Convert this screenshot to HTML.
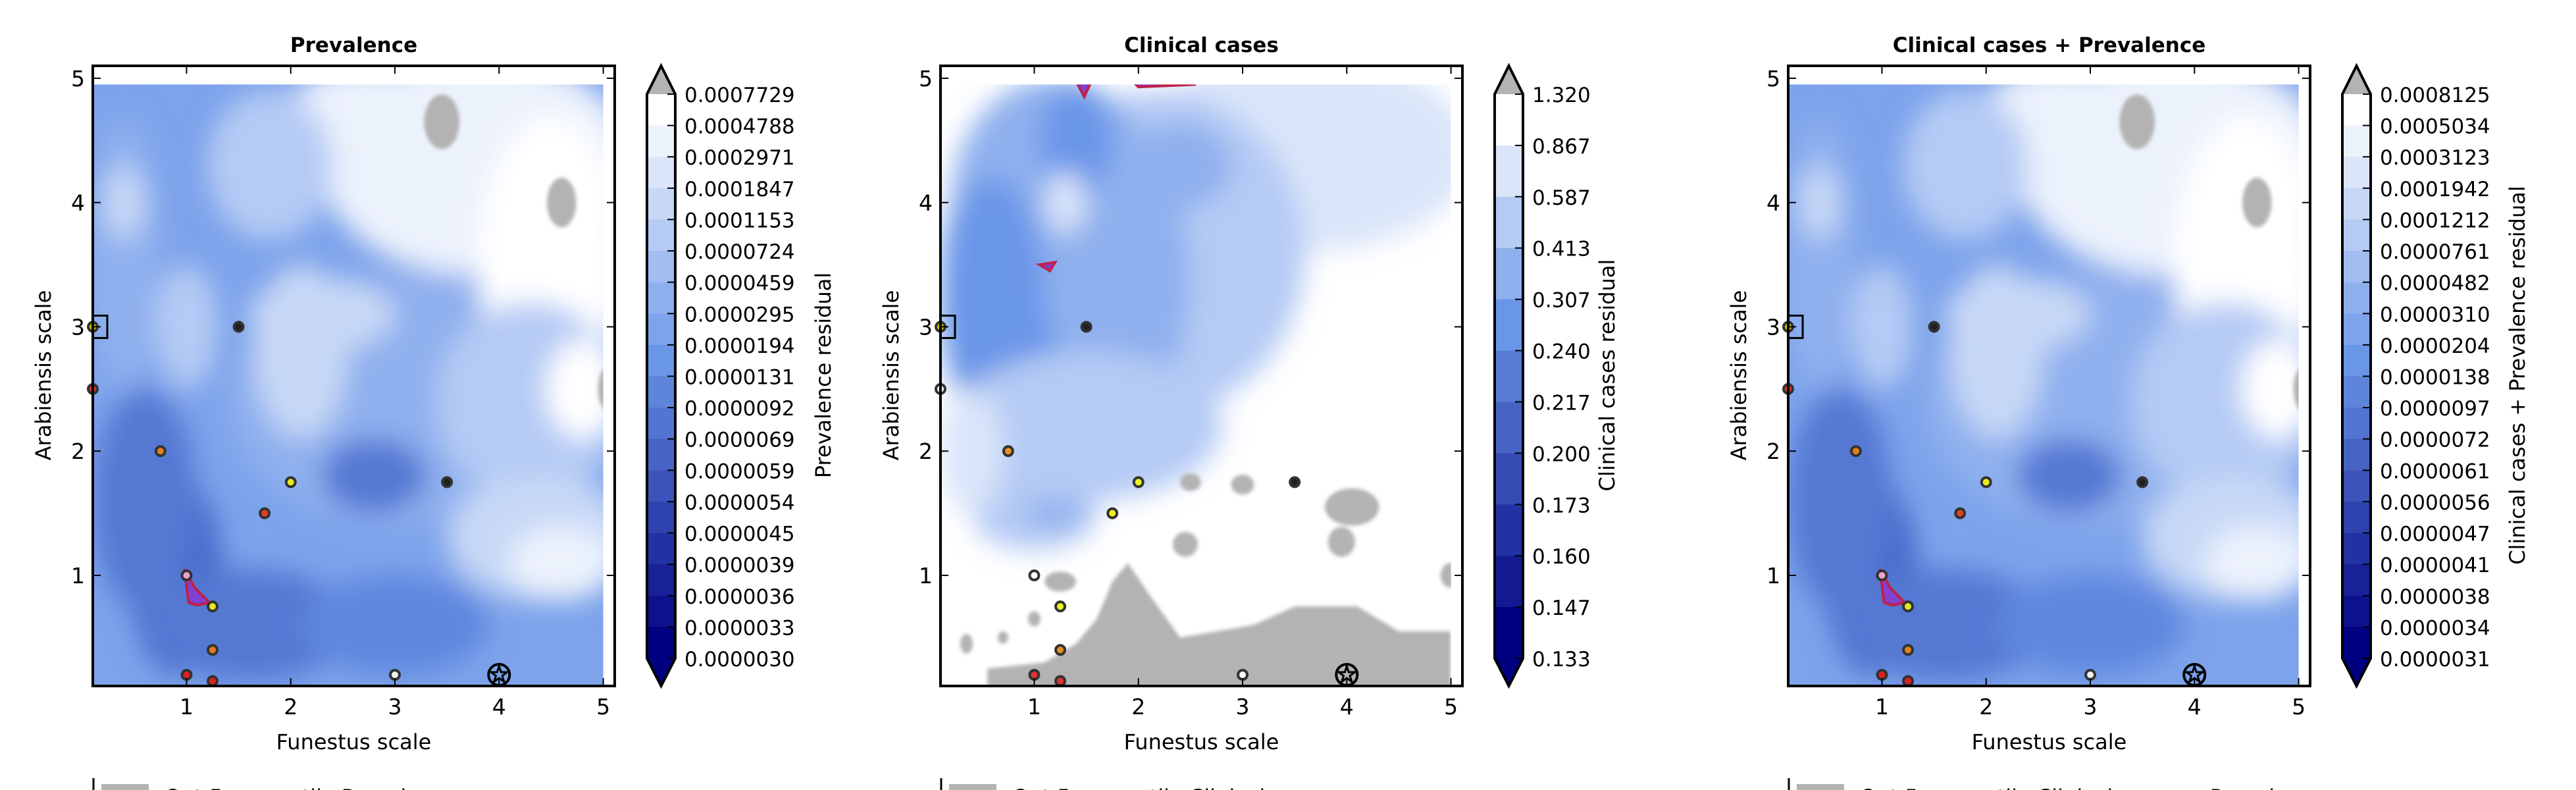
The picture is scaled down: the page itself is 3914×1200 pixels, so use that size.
<!DOCTYPE html>
<html><head><meta charset="utf-8">
<style>
html,body{margin:0;padding:0;background:#fff;}
svg{display:block;font-family:"DejaVu Sans","Liberation Sans",sans-serif;}
</style></head>
<body>
<svg id="fig" width="3914" height="1200" viewBox="0 0 3914 1200" xmlns="http://www.w3.org/2000/svg">
<defs>
<filter id="blur" x="-50%" y="-50%" width="200%" height="200%"><feGaussianBlur stdDeviation="20"/></filter>
<filter id="blur2" x="-50%" y="-50%" width="200%" height="200%"><feGaussianBlur stdDeviation="3"/></filter>
</defs>
</svg>
<script>
// ---- data ----
const xTicks = [1,2,3,4,5];
const yTicks = [1,2,3,4,5];
const titles = ["Prevalence","Clinical cases","Clinical cases + Prevalence"];
const cbarLabels = ["Prevalence residual","Clinical cases residual","Clinical cases + Prevalence residual"];
const legendLabels = ["Out 5 percentile Prevalence","Out 5 percentile Clinical cases","Out 5 percentile Clinical cases + Prevalence"];
const prevLevels = ["0.0007729","0.0004788","0.0002971","0.0001847","0.0001153","0.0000724","0.0000459","0.0000295","0.0000194","0.0000131","0.0000092","0.0000069","0.0000059","0.0000054","0.0000045","0.0000039","0.0000036","0.0000033","0.0000030"];
const clinLevels = ["1.320","0.867","0.587","0.413","0.307","0.240","0.217","0.200","0.173","0.160","0.147","0.133"];
const combLevels = ["0.0008125","0.0005034","0.0003123","0.0001942","0.0001212","0.0000761","0.0000482","0.0000310","0.0000204","0.0000138","0.0000097","0.0000072","0.0000061","0.0000056","0.0000047","0.0000041","0.0000038","0.0000034","0.0000031"];
// site points
const ptX = [0.1,0.1,0.75,1.5,2.0,1.75,3.5,1.0,1.25,1.25,1.0,1.25,3.0];
const ptY = [3.0,2.5,2.0,3.0,1.75,1.5,1.75,1.0,0.75,0.4,0.2,0.15,0.2];
const ptColPrev = ["#c8c800","#e03030","#e08020","#202020","#e8e820","#e04020","#202020","#f0a0d0","#e8e820","#e08020","#e02020","#e02020","#f0f0f0"];
const ptColClin = ["#c8c800","#ffffff","#e89020","#202020","#f0f020","#f0f020","#202020","#ffffff","#f0f020","#e89020","#e03030","#e03030","#ffffff"];
const starX = 4.0, starY = 0.2;
// approximate contour blobs: [x, y, rx, ry, level]
const prevBlobs = [
 [3.0,2.4,1.6,1.0,6],[3.8,4.3,1.5,0.9,1],[2.7,4.6,0.8,0.5,1],[4.5,3.5,0.7,1.2,0],[1.8,4.3,0.6,0.6,4],
 [2.1,2.8,0.45,0.7,3],[2.3,3.1,0.7,0.3,3],[4.3,2.4,0.9,0.8,4],[4.4,1.3,0.9,0.5,3],[4.6,1.1,0.5,0.3,1],
 [4.8,2.5,0.35,0.4,0],[0.4,3.6,0.35,1.1,6],[0.4,4.0,0.2,0.3,3],[1.0,3.0,0.3,0.5,4],
 [0.9,1.0,0.45,0.8,11],[0.6,1.6,0.5,0.9,10],[1.6,0.6,1.0,0.45,10],[3.0,0.6,0.9,0.4,9],[2.8,1.8,0.5,0.3,10]
];
const clinBlobs = [
 [3.6,4.4,1.6,0.8,1],[2.2,3.6,1.4,1.3,2],[1.3,3.4,1.2,1.5,3],[1.2,4.0,1.0,1.0,3],[0.6,3.2,0.5,1.0,4],
 [1.4,4.5,0.35,0.45,4],[2.4,4.3,0.5,0.35,3],[0.9,2.6,0.35,0.6,4],[1.5,2.2,1.3,0.6,2],[1.0,1.5,0.6,0.3,2],
 [1.2,1.5,0.3,0.12,3],[1.3,4.0,0.2,0.25,1],[0.4,2.0,0.3,0.5,1]
];
const clinGray = [[2.5,1.75,0.1,0.07],[3.0,1.73,0.11,0.08],[4.05,1.55,0.26,0.15],[2.45,1.25,0.12,0.1],[3.95,1.27,0.13,0.12],[1.25,0.95,0.15,0.08],[1.0,0.65,0.06,0.06],[0.35,0.45,0.06,0.08],[0.7,0.5,0.05,0.05],[5.0,1.0,0.1,0.1]];
const clinGrayPoly = [[0.55,0.1],[0.55,0.25],[1.1,0.3],[1.4,0.45],[1.6,0.65],[1.75,0.95],[1.9,1.1],[2.1,0.85],[2.4,0.5],[3.1,0.6],[3.5,0.75],[4.1,0.75],[4.5,0.55],[5.0,0.55],[5.0,0.1]];
const prevGray = [[3.45,4.65,0.17,0.22],[4.6,4.0,0.14,0.2],[5.05,2.5,0.1,0.18]];
const prevHot = [[0.98,1.05],[1.08,0.9],[1.22,0.78],[1.1,0.76],[1.02,0.78]];
const clinHot = [[[1.4,4.98],[1.55,4.98],[1.48,4.85]],[[1.95,4.97],[2.55,4.95],[2.0,4.93]],[[1.05,3.5],[1.2,3.52],[1.15,3.45]]];

// ---- layout ----
const NS="http://www.w3.org/2000/svg";
const svg=document.getElementById('fig');
const AX={l:141,t:100,w:793,h:942};
const XMIN=0.1,XMAX=5.11,YMIN=0.11,YMAX=5.1;
const PANEL_DX=1288;
const CBAR_LABEL_X=[1262,1165,1260];
function mk(tag,attrs,parent){const e=document.createElementNS(NS,tag);for(const k in attrs)e.setAttribute(k,attrs[k]);(parent||svg).appendChild(e);return e;}
function hex(c){return [parseInt(c.substr(1,2),16),parseInt(c.substr(3,2),16),parseInt(c.substr(5,2),16)];}
function mix(a,b,t){const A=hex(a),B=hex(b);return 'rgb('+A.map((v,i)=>Math.round(v+(B[i]-v)*t)).join(',')+')';}
function levelColor(i,n){const mid=Math.round((n-1)*8/18);if(i<=mid)return mix('#ffffff','#6a96e8',i/mid);return mix('#6a96e8','#000080',(i-mid)/(n-1-mid));}

function panel(p){
 const ox=p*PANEL_DX;
 const sx=v=>ox+AX.l+(v-XMIN)/(XMAX-XMIN)*AX.w;
 const sy=v=>AX.t+(YMAX-v)/(YMAX-YMIN)*AX.h;
 const g=mk('g',{});
 
 
 const clip=mk('clipPath',{id:'clip'+p},g);
 mk('rect',{x:ox+AX.l,y:AX.t,width:AX.w,height:AX.h},clip);
 const plot=mk('g',{'clip-path':'url(#clip'+p+')'},g);
 
 
 const isClin=(p===1);
 const nl=isClin?11:19;
 mk('rect',{x:ox+AX.l,y:AX.t,width:AX.w,height:AX.h,fill:isClin?'#ffffff':levelColor(7,19)},plot);
 const bl=mk('g',{filter:'url(#blur)'},plot);
 (isClin?clinBlobs:prevBlobs).forEach(b=>{
  const c=mk('ellipse',{cx:sx(b[0]),cy:sy(b[1]),rx:b[2]/(XMAX-XMIN)*AX.w,ry:b[3]/(YMAX-YMIN)*AX.h,fill:levelColor(b[4],nl)},bl);
  
 });
 const gg=mk('g',{filter:'url(#blur2)'},plot);
 if(isClin){
  mk('polygon',{points:clinGrayPoly.map(q=>sx(q[0])+','+sy(q[1])).join(' '),fill:'#b3b3b3'},gg);
  clinGray.forEach(b=>mk('ellipse',{cx:sx(b[0]),cy:sy(b[1]),rx:b[2]/(XMAX-XMIN)*AX.w,ry:b[3]/(YMAX-YMIN)*AX.h,fill:'#b3b3b3'},gg));
  clinHot.forEach(h=>mk('polygon',{points:h.map(q=>sx(q[0])+','+sy(q[1])).join(' '),fill:'#8040d0',stroke:'#c0204a','stroke-width':4},plot));
 } else {
  prevGray.forEach(b=>mk('ellipse',{cx:sx(b[0]),cy:sy(b[1]),rx:b[2]/(XMAX-XMIN)*AX.w,ry:b[3]/(YMAX-YMIN)*AX.h,fill:'#b3b3b3'},gg));
  mk('polygon',{points:prevHot.map(q=>sx(q[0])+','+sy(q[1])).join(' '),fill:'#8040d0',stroke:'#c0204a','stroke-width':4},plot);
 }
 mk('rect',{x:sx(5.0),y:AX.t,width:sx(XMAX)-sx(5.0),height:AX.h,fill:'#fff'},plot);
 mk('rect',{x:ox+AX.l,y:AX.t,width:AX.w,height:sy(4.95)-AX.t,fill:'#fff'},plot);
 const cols=isClin?ptColClin:ptColPrev;
 ptX.forEach((x,i)=>{
  const c=mk('circle',{cx:sx(x),cy:sy(ptY[i]),r:7,fill:cols[i],stroke:'#333',"stroke-width":4},g);
  
  
 });
 const st=mk('g',{},g);
 
 
 mk('circle',{cx:sx(starX),cy:sy(starY),r:16,fill:'none',stroke:'#000','stroke-width':4},st);
 const pts=[];for(let k=0;k<10;k++){const a=-Math.PI/2+k*Math.PI/5,r=k%2?5:13;pts.push((sx(starX)+r*Math.cos(a))+','+(sy(starY)+r*Math.sin(a)));}
 mk('polygon',{points:pts.join(' '),fill:'none',stroke:'#000','stroke-width':3},st);
 const sq=mk('rect',{x:ox+AX.l,y:sy(3.0)-17,width:22,height:34,fill:'none',stroke:'#000','stroke-width':3},g);
 
 
 mk('rect',{x:ox+AX.l,y:AX.t,width:AX.w,height:AX.h,fill:'none',stroke:'#000','stroke-width':4},g);
 xTicks.forEach(t=>{
  mk('line',{x1:sx(t),x2:sx(t),y1:AX.t+AX.h,y2:AX.t+AX.h-12,stroke:'#000','stroke-width':2},g);
  mk('line',{x1:sx(t),x2:sx(t),y1:AX.t,y2:AX.t+12,stroke:'#000','stroke-width':2},g);
  const tl=mk('text',{x:sx(t),y:1085,'font-size':33,'text-anchor':'middle'},g);tl.textContent=t;
  
 });
 yTicks.forEach(t=>{
  mk('line',{x1:ox+AX.l,x2:ox+AX.l+12,y1:sy(t),y2:sy(t),stroke:'#000','stroke-width':2},g);
  mk('line',{x1:ox+AX.l+AX.w,x2:ox+AX.l+AX.w-12,y1:sy(t),y2:sy(t),stroke:'#000','stroke-width':2},g);
  const tl=mk('text',{x:ox+AX.l-12,y:sy(t)+12,'font-size':33,'text-anchor':'end'},g);tl.textContent=t;
  
 });
 const tt=mk('text',{x:ox+AX.l+AX.w/2,y:79,'font-size':31,'font-weight':'bold','text-anchor':'middle'},g);tt.textContent=titles[p];
 
 const xl=mk('text',{x:ox+AX.l+AX.w/2,y:1138,'font-size':32,'text-anchor':'middle'},g);xl.textContent='Funestus scale';
 
 const yl=mk('text',{x:0,y:0,'font-size':32,'text-anchor':'middle',transform:'translate('+(ox+77)+',570) rotate(-90)'},g);yl.textContent='Arabiensis scale';
 
 const levels=[prevLevels,clinLevels,combLevels][p];
 const nb=levels.length-1;
 const cx0=ox+983,cw=43,ct=143,cb=1000;
 const cbg=mk('g',{},g);
 
 
 const bh=(cb-ct)/nb;
 for(let i=0;i<nb;i++){mk('rect',{x:cx0,y:ct+i*bh,width:cw,height:bh+0.5,fill:levelColor(i,nb)},cbg);}
 mk('polygon',{points:`${cx0},${ct} ${cx0+cw/2},100 ${cx0+cw},${ct}`,fill:'#b3b3b3'},cbg);
 mk('polygon',{points:`${cx0},${cb} ${cx0+cw/2},1042 ${cx0+cw},${cb}`,fill:'#000080'},cbg);
 mk('polygon',{points:`${cx0},${ct} ${cx0+cw/2},100 ${cx0+cw},${ct} ${cx0+cw},${cb} ${cx0+cw/2},1042 ${cx0},${cb}`,fill:'none',stroke:'#000','stroke-width':4},cbg);
 levels.forEach((lab,i)=>{
  const y=ct+i*bh;
  mk('line',{x1:cx0+cw-12,x2:cx0+cw,y1:y,y2:y,stroke:'#000','stroke-width':2},cbg);
  const t=mk('text',{x:cx0+cw+14,y:y+12,'font-size':31},cbg);t.textContent=lab;
  
 });
 const cl=mk('text',{x:0,y:0,'font-size':32,'text-anchor':'middle',transform:'translate('+(ox+CBAR_LABEL_X[p])+',570) rotate(-90)'},g);cl.textContent=cbarLabels[p];
 
 const lg=mk('g',{},g);
 
 
 mk('line',{x1:ox+142,x2:ox+142,y1:1182,y2:1200,stroke:'#000','stroke-width':3},lg);
 mk('rect',{x:ox+154,y:1191,width:72,height:12,fill:'#b3b3b3'},lg);
 const lt=mk('text',{x:ox+250,y:1222,'font-size':32},lg);lt.textContent=legendLabels[p];
}
[0,1,2].forEach(panel);
</script>
</body></html>
